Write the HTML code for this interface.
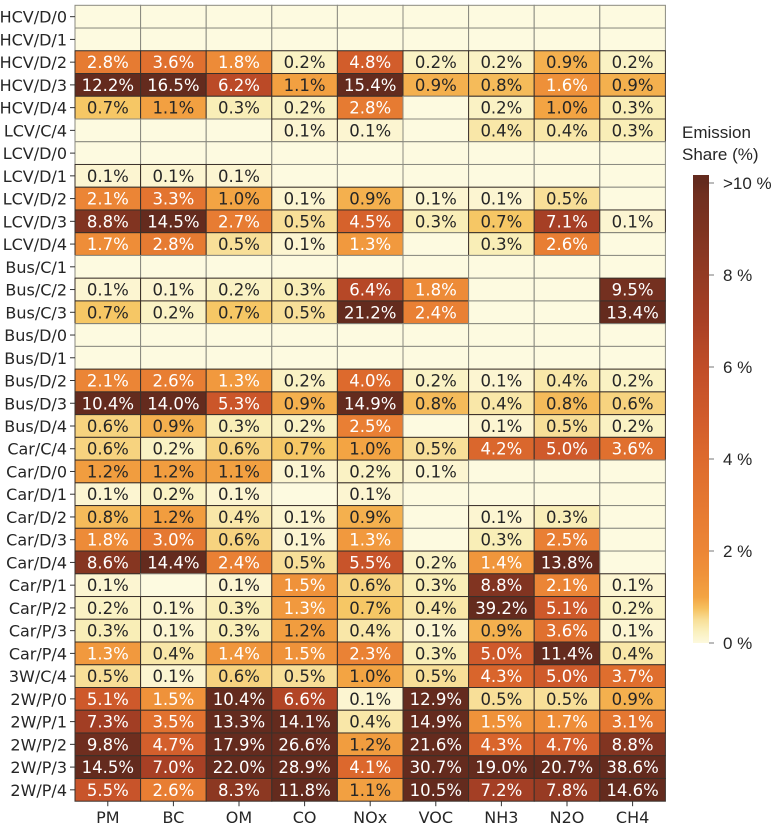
<!DOCTYPE html>
<html><head><meta charset="utf-8"><style>
html,body{margin:0;padding:0;background:#fff;}
svg{display:block;}
</style></head><body>
<svg id="chart" width="775" height="830" xmlns="http://www.w3.org/2000/svg">
<g id="cells"></g>
<g id="ylabels"></g>
<g id="xlabels"></g>
<g id="cbar"></g>
</svg>
<script>
const rowLabels = ["HCV/D/0","HCV/D/1","HCV/D/2","HCV/D/3","HCV/D/4","LCV/C/4","LCV/D/0","LCV/D/1","LCV/D/2","LCV/D/3","LCV/D/4","Bus/C/1","Bus/C/2","Bus/C/3","Bus/D/0","Bus/D/1","Bus/D/2","Bus/D/3","Bus/D/4","Car/C/4","Car/D/0","Car/D/1","Car/D/2","Car/D/3","Car/D/4","Car/P/1","Car/P/2","Car/P/3","Car/P/4","3W/C/4","2W/P/0","2W/P/1","2W/P/2","2W/P/3","2W/P/4"];
const colLabels = ["PM","BC","OM","CO","NOx","VOC","NH3","N2O","CH4"];
const N = null;
const values = [
[N,N,N,N,N,N,N,N,N],
[N,N,N,N,N,N,N,N,N],
[2.8,3.6,1.8,0.2,4.8,0.2,0.2,0.9,0.2],
[12.2,16.5,6.2,1.1,15.4,0.9,0.8,1.6,0.9],
[0.7,1.1,0.3,0.2,2.8,N,0.2,1.0,0.3],
[N,N,N,0.1,0.1,N,0.4,0.4,0.3],
[N,N,N,N,N,N,N,N,N],
[0.1,0.1,0.1,N,N,N,N,N,N],
[2.1,3.3,1.0,0.1,0.9,0.1,0.1,0.5,N],
[8.8,14.5,2.7,0.5,4.5,0.3,0.7,7.1,0.1],
[1.7,2.8,0.5,0.1,1.3,N,0.3,2.6,N],
[N,N,N,N,N,N,N,N,N],
[0.1,0.1,0.2,0.3,6.4,1.8,N,N,9.5],
[0.7,0.2,0.7,0.5,21.2,2.4,N,N,13.4],
[N,N,N,N,N,N,N,N,N],
[N,N,N,N,N,N,N,N,N],
[2.1,2.6,1.3,0.2,4.0,0.2,0.1,0.4,0.2],
[10.4,14.0,5.3,0.9,14.9,0.8,0.4,0.8,0.6],
[0.6,0.9,0.3,0.2,2.5,N,0.1,0.5,0.2],
[0.6,0.2,0.6,0.7,1.0,0.5,4.2,5.0,3.6],
[1.2,1.2,1.1,0.1,0.2,0.1,N,N,N],
[0.1,0.2,0.1,N,0.1,N,N,N,N],
[0.8,1.2,0.4,0.1,0.9,N,0.1,0.3,N],
[1.8,3.0,0.6,0.1,1.3,N,0.3,2.5,N],
[8.6,14.4,2.4,0.5,5.5,0.2,1.4,13.8,N],
[0.1,N,0.1,1.5,0.6,0.3,8.8,2.1,0.1],
[0.2,0.1,0.3,1.3,0.7,0.4,39.2,5.1,0.2],
[0.3,0.1,0.3,1.2,0.4,0.1,0.9,3.6,0.1],
[1.3,0.4,1.4,1.5,2.3,0.3,5.0,11.4,0.4],
[0.5,0.1,0.6,0.5,1.0,0.5,4.3,5.0,3.7],
[5.1,1.5,10.4,6.6,0.1,12.9,0.5,0.5,0.9],
[7.3,3.5,13.3,14.1,0.4,14.9,1.5,1.7,3.1],
[9.8,4.7,17.9,26.6,1.2,21.6,4.3,4.7,8.8],
[14.5,7.0,22.0,28.9,4.1,30.7,19.0,20.7,38.6],
[5.5,2.6,8.3,11.8,1.1,10.5,7.2,7.8,14.6]
];
const cbTicks = [0,2,4,6,8,10];
const cbTickLabels = ["0 %","2 %","4 %","6 %","8 %",">10 %"];

const NS="http://www.w3.org/2000/svg";
const L=75, T=5.3, CW=65.6, RH=22.74;
const xPos = i => L + i*CW;
const yPos = j => T + j*RH;
const CB_X=693, CB_W=16, CB_BOT=643, CB_PER=46;
const cbY = v => CB_BOT - v*CB_PER;
const FONT='DejaVu Sans, Liberation Sans, sans-serif';

const stops=[[0,[253,249,222]],[0.3,[249,238,183]],[0.5,[248,223,152]],[0.7,[246,199,101]],[1.0,[243,164,67]],[1.5,[239,146,58]],[2,[236,134,54]],[3,[229,120,49]],[4,[221,106,45]],[5,[207,90,43]],[6,[192,77,40]],[7,[168,64,37]],[8,[147,58,35]],[9,[125,51,32]],[10,[107,45,31]]];
function color(v){
  if(v===null) return "rgb(253,250,224)";
  if(v>=10) return "rgb(100,43,30)";
  for(let k=1;k<stops.length;k++){
    if(v<=stops[k][0]){
      const a=stops[k-1],b=stops[k],t=(v-a[0])/(b[0]-a[0]);
      const c=a[1].map((x,i)=>Math.round(x+(b[1][i]-x)*t));
      return `rgb(${c[0]},${c[1]},${c[2]})`;
    }
  }
}
function mk(tag,attrs,parent){const e=document.createElementNS(NS,tag);for(const k in attrs)e.setAttribute(k,attrs[k]);parent.appendChild(e);return e;}

const cells=document.getElementById('cells');
values.forEach((row,j)=>{
  row.forEach((v,i)=>{
    const r=mk('rect',{x:xPos(i),y:yPos(j),width:CW,height:RH,fill:color(v),stroke:v===null?'#8a8a80':'#3a302a','stroke-width':1},cells);
    
    
    if(v!==null){
      const t=mk('text',{x:xPos(i)+CW/2,y:yPos(j)+RH/2+6,'text-anchor':'middle','font-family':FONT,'font-size':'16.5',fill:v>=1.25?'#ffffff':'#262626'},cells);
      t.textContent=v.toFixed(1)+'%';
      
      
    }
  });
});
const yl=document.getElementById('ylabels');
rowLabels.forEach((lab,j)=>{
  const cy=yPos(j)+RH/2;
  mk('line',{x1:L-5,x2:L,y1:cy,y2:cy,stroke:'#333','stroke-width':1},yl);
  const t=mk('text',{x:L-8,y:cy+6,'text-anchor':'end','font-family':FONT,'font-size':'16',fill:'#262626'},yl);
  t.textContent=lab;
  
  
});
const xl=document.getElementById('xlabels');
const bottom=yPos(rowLabels.length);
colLabels.forEach((lab,i)=>{
  const cx=xPos(i)+CW/2;
  mk('line',{x1:cx,x2:cx,y1:bottom,y2:bottom+5,stroke:'#333','stroke-width':1},xl);
  const t=mk('text',{x:cx,y:bottom+22,'text-anchor':'middle','font-family':FONT,'font-size':'16',fill:'#262626'},xl);
  t.textContent=lab;
  
  
});
const cb=document.getElementById('cbar');
const defs=mk('defs',{},cb);
const g=mk('linearGradient',{id:'cbg',x1:0,y1:1,x2:0,y2:0},defs);
for(let s=0;s<=40;s++){const v=s*10/40;mk('stop',{offset:(s/40),'stop-color':color(v)},g);}
const cbTop=175;
mk('rect',{x:CB_X,y:cbY(10),width:CB_W,height:CB_BOT-cbY(10),fill:'url(#cbg)'},cb);
const capRect=mk('rect',{x:CB_X,y:cbTop,width:CB_W,height:cbY(10)-cbTop,fill:color(10)},cb);


cbTicks.forEach((v,k)=>{
  const y=cbY(v);
  mk('line',{x1:CB_X+CB_W,x2:CB_X+CB_W+5,y1:y,y2:y,stroke:'#777','stroke-width':1},cb);
  const t=mk('text',{x:CB_X+CB_W+14,y:y+6,'font-family':'Liberation Sans, sans-serif','font-size':'17',fill:'#262626'},cb);
  t.textContent=cbTickLabels[k];
  
  
});
const t1=mk('text',{x:682,y:138,'font-family':'Liberation Sans, sans-serif','font-size':'17',fill:'#262626'},cb);
t1.textContent='Emission';


const t2=mk('text',{x:682,y:160,'font-family':'Liberation Sans, sans-serif','font-size':'17',fill:'#262626'},cb);
t2.textContent='Share (%)';


</script>
</body></html>
